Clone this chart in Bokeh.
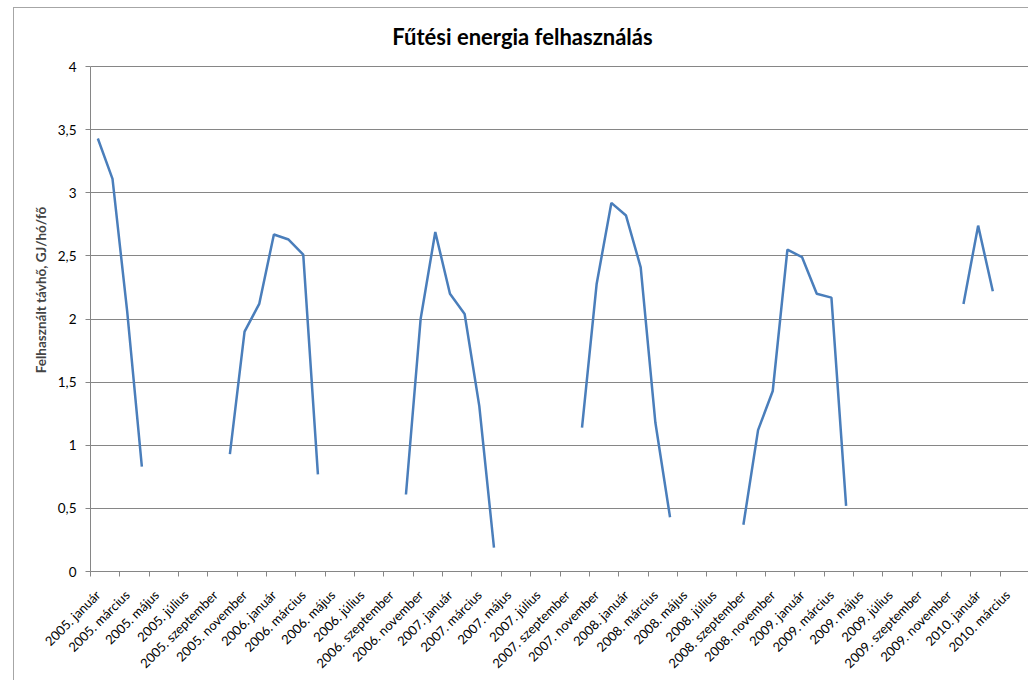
import math
from bokeh.plotting import figure
from bokeh.models import Range1d, FixedTicker, CustomJSTickFormatter, Label
from bokeh.embed import file_html
from bokeh.resources import INLINE

# ---- data ----
years = [2005, 2006, 2007, 2008, 2009, 2010]
month_names = ["január", "február", "március", "április", "május", "június",
               "július", "augusztus", "szeptember", "október", "november", "december"]
categories = [f"{y}. {m}" for y in years for m in month_names][:63]  # 2005. január .. 2010. március

nan = float("nan")
values = [
    3.43, 3.11, 2.06, 0.83, nan, nan, nan, nan, nan, 0.93, 1.90, 2.12,   # 2005
    2.67, 2.63, 2.51, 0.77, nan, nan, nan, nan, nan, 0.61, 2.00, 2.69,   # 2006
    2.20, 2.04, 1.31, 0.19, nan, nan, nan, nan, nan, 1.14, 2.28, 2.92,   # 2007
    2.82, 2.41, 1.18, 0.43, nan, nan, nan, nan, 0.37, 1.12, 1.43, 2.55,  # 2008
    2.49, 2.20, 2.17, 0.52, nan, nan, nan, nan, nan, nan, nan, 2.12,     # 2009
    2.74, 2.22, nan,                                                     # 2010
]
y_ticks = [0, 0.5, 1, 1.5, 2, 2.5, 3, 3.5, 4]
title_text = "Fűtési energia felhasználás"
y_label = "Felhasznált távhő, GJ/hó/fő"

# ---- figure ----
n = len(categories)
xs = [i + 0.5 for i in range(n)]

W, H = 1015, 673
# the frame reaches the top of the chart so the title can sit inside it;
# the value axis itself is bounded to 0..4
y_top = 4 + 58 / 126
p = figure(width=W, height=H, output_backend="svg", toolbar_location=None,
           x_range=Range1d(0, n + 1), y_range=Range1d(0, y_top),
           min_border_left=76, min_border_right=0, min_border_top=0, min_border_bottom=110)
p.margin = (7, 0, 0, 13)
p.styles = {"border-top": "1px solid #a6a6a6", "border-left": "1px solid #a6a6a6",
            "box-sizing": "border-box"}
p.outline_line_color = None
p.background_fill_color = "white"
p.border_fill_color = "white"

# title placed in screen units relative to the plot frame (left/bottom)
title = Label(x=432, y=535, x_units="screen", y_units="screen", text=title_text,
              text_font="Lato", text_font_size="22px", text_font_style="bold",
              text_color="black", text_align="center", text_baseline="middle")
p.add_layout(title)

p.line(xs, values, line_color="#4a7ebb", line_width=2.5)

# x axis: labels at centers of every second category, ticks at boundaries
label_pos = [i + 0.5 for i in range(0, n, 2)]
p.xaxis.ticker = FixedTicker(ticks=label_pos, minor_ticks=list(range(0, n, 2)))
p.xaxis.major_label_overrides = {i + 0.5: categories[i] for i in range(0, n, 2)}
p.xaxis.major_label_orientation = math.pi / 4
p.xaxis.major_tick_line_color = None
p.xaxis.minor_tick_line_color = "#868686"
p.xaxis.minor_tick_in = 0
p.xaxis.minor_tick_out = 5
p.xaxis.axis_line_color = "#868686"
p.xaxis.major_label_text_font = "Lato"
p.xaxis.major_label_text_font_size = "13px"
p.xaxis.major_label_text_color = "black"
p.xaxis.major_label_standoff = 15
p.xgrid.grid_line_color = None

# y axis
p.yaxis.ticker = FixedTicker(ticks=y_ticks, minor_ticks=[])
p.yaxis.bounds = (0, 4)
p.yaxis.formatter = CustomJSTickFormatter(code="return tick.toString().replace('.', ',');")
p.yaxis.axis_line_color = "#868686"
p.yaxis.major_tick_line_color = "#868686"
p.yaxis.major_tick_in = 0
p.yaxis.major_tick_out = 5
p.yaxis.major_label_text_font = "Lato"
p.yaxis.major_label_text_font_size = "13.5px"
p.yaxis.major_label_text_color = "black"
p.yaxis.major_label_standoff = 9
p.yaxis.axis_label = y_label
p.yaxis.axis_label_text_font = "Lato"
p.yaxis.axis_label_text_font_size = "13.5px"
p.yaxis.axis_label_text_font_style = "bold"
p.yaxis.axis_label_standoff = 6
p.ygrid.grid_line_color = "#868686"
p.ygrid.grid_line_width = 1

open("out.html", "w").write(file_html(p, INLINE))
